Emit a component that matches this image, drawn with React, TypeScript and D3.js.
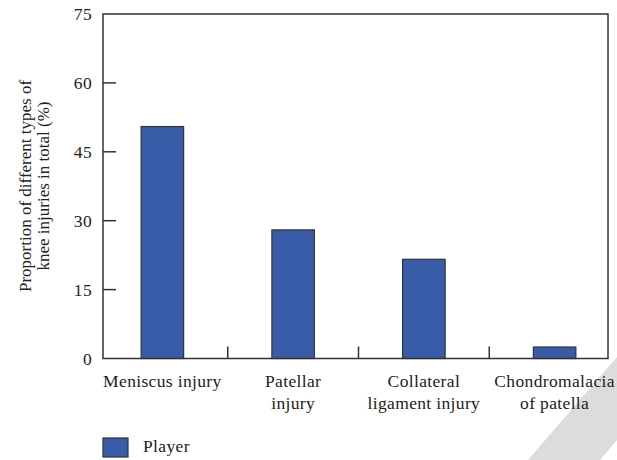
import React from "react";
import * as d3 from "d3";

const categories = [
  ["Meniscus injury"],
  ["Patellar", "injury"],
  ["Collateral", "ligament injury"],
  ["Chondromalacia", "of patella"],
];
const playerValues = [50.5, 28.0, 21.6, 2.5];
const yTicks = [0, 15, 30, 45, 60, 75];
const seriesName = "Player";

const W = 617;
const H = 460;
const plot = { left: 103, right: 608, top: 14, bottom: 358.5 };
const font = "'Liberation Serif', 'Times New Roman', serif";
const barFill = "#395ca9";
const ink = "#333";
const fs = 17.5;
const ls = 0.35;

export default function App() {
  const keys = categories.map((c) => c.join(" "));

  const x = d3
    .scaleBand<string>()
    .domain(keys)
    .range([97, 620])
    .paddingInner(0.675)
    .paddingOuter(0.3375);

  const y = d3.scaleLinear().domain([0, 75]).range([plot.bottom, plot.top]);

  // category separators sit halfway between bands
  const step = x.step();
  const seps = keys.slice(1).map((k) => (x(k) as number) - (step - x.bandwidth()) / 2);

  return (
    <svg
      width={W}
      height={H}
      style={{ position: "absolute", left: 0, top: 0, background: "#fff" }}
      fontFamily={font}
      letterSpacing={ls}
    >
      <rect width={W} height={H} fill="#fff" />
      {/* watermark band */}
      <polygon points="528,460 617,357 617,440 600,460" fill="#dcdcdc" />

      {/* bars */}
      {playerValues.map((v, i) => (
        <rect
          key={keys[i]}
          x={x(keys[i])}
          y={y(v)}
          width={x.bandwidth()}
          height={y(0) - y(v)}
          fill={barFill}
          stroke={ink}
          strokeWidth={1.2}
        />
      ))}

      {/* frame */}
      <rect
        x={plot.left}
        y={plot.top}
        width={plot.right - plot.left}
        height={plot.bottom - plot.top}
        fill="none"
        stroke={ink}
        strokeWidth={1.5}
      />

      {/* y ticks */}
      {yTicks.map((t) => (
        <g key={t}>
          {t > 0 && t < 75 && (
            <line
              x1={plot.left}
              x2={plot.left + 13}
              y1={y(t)}
              y2={y(t)}
              stroke={ink}
              strokeWidth={1.5}
            />
          )}
          <text
            x={92}
            y={y(t)}
            dy="0.35em"
            textAnchor="end"
            fontSize={fs}
            fill="#222"
          >
            {t}
          </text>
        </g>
      ))}

      {/* x separators */}
      {seps.map((sx, i) => (
        <line
          key={i}
          x1={sx}
          x2={sx}
          y1={plot.bottom}
          y2={plot.bottom - 12}
          stroke={ink}
          strokeWidth={1.5}
        />
      ))}

      {/* x labels */}
      {categories.map((lines, i) => (
        <text
          key={keys[i]}
          x={(x(keys[i]) as number) + x.bandwidth() / 2}
          y={387}
          textAnchor="middle"
          fontSize={fs}
          fill="#222"
        >
          {lines.map((l, j) => (
            <tspan key={j} x={(x(keys[i]) as number) + x.bandwidth() / 2} dy={j === 0 ? 0 : 21.5}>
              {l}
            </tspan>
          ))}
        </text>
      ))}

      {/* y title */}
      <text
        transform="translate(31,186) rotate(-90)"
        textAnchor="middle"
        fontSize={17}
        fill="#222"
        letterSpacing={0}
      >
        <tspan x={0} dy={0}>Proportion of different types of</tspan>
        <tspan x={0} dy={18}>knee injuries in total (%)</tspan>
      </text>

      {/* legend */}
      <rect x={103} y={438} width={25} height={19} fill={barFill} stroke={ink} strokeWidth={1.2} />
      <text x={143} y={452} fontSize={fs} fill="#222">
        {seriesName}
      </text>
    </svg>
  );
}
